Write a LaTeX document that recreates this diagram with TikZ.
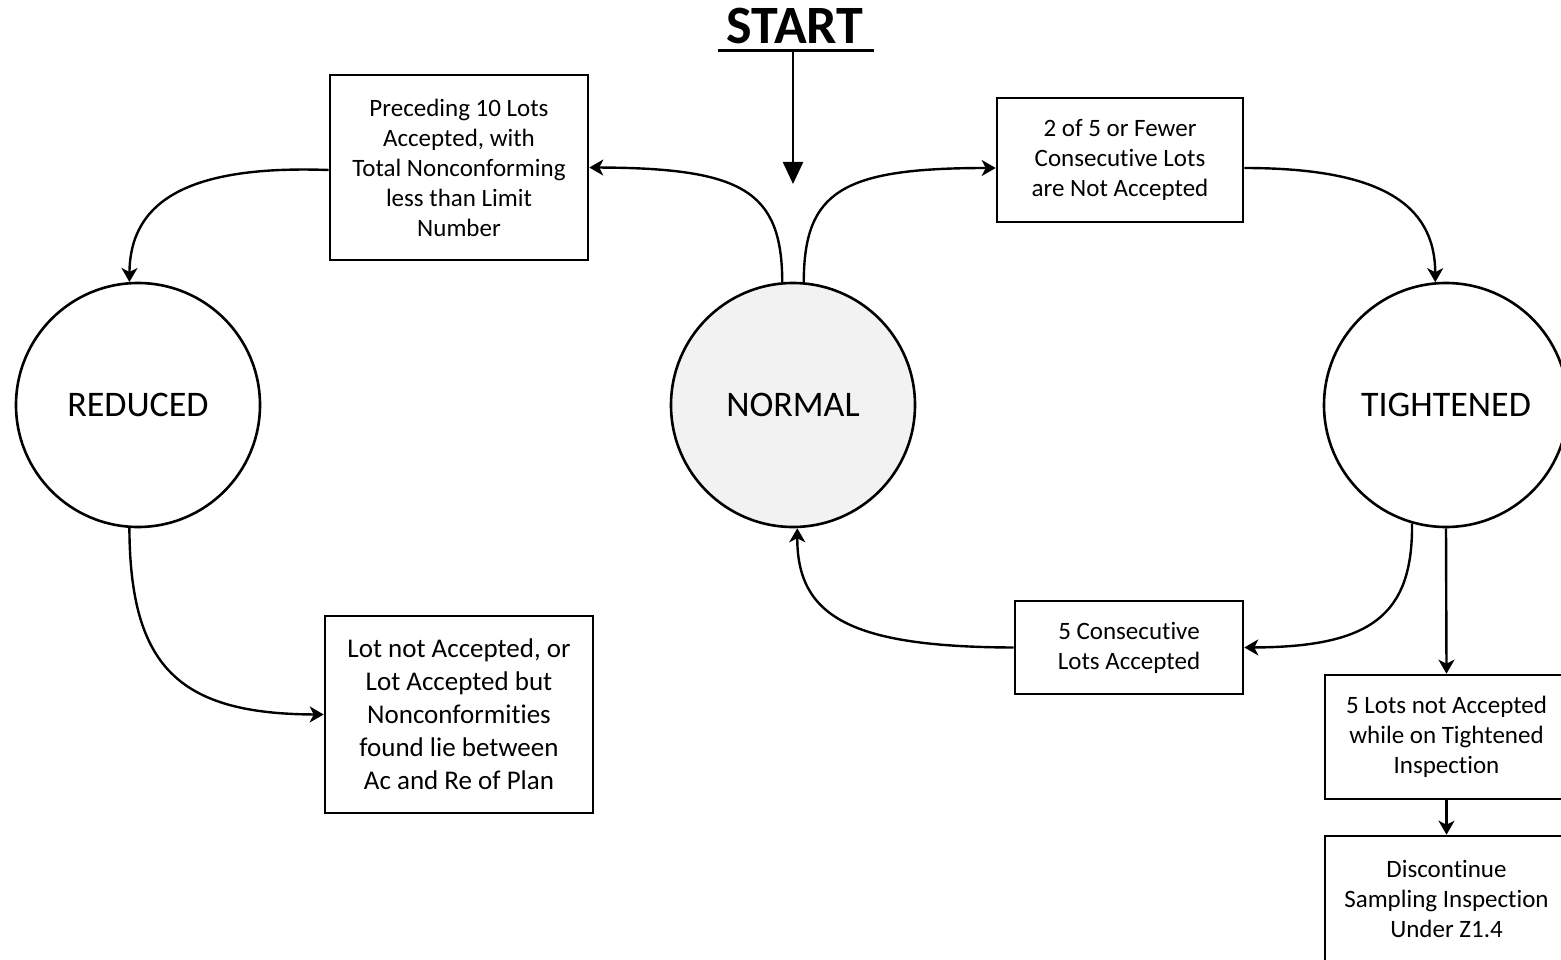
\documentclass[tikz,border=0pt]{standalone}
\usepackage{fontspec}
\setmainfont{Carlito}[Ligatures=NoCommon]
\usetikzlibrary{arrows.meta}
\definecolor{normalfill}{HTML}{F2F2F2}
\tikzset{
  state/.style={circle, draw, line width=2.6pt, minimum size=244pt, inner sep=0pt, font=\fontsize{36}{42}\selectfont},
  box/.style={rectangle, draw, line width=2.6pt, align=center, inner sep=0pt, font=\fontsize{25}{30}\selectfont},
  conn/.style={line width=2.4pt, -{Stealth[length=14pt,width=16pt,inset=4pt]}},
}
\begin{document}
\begin{tikzpicture}[x=1pt,y=-1pt]
\useasboundingbox (0,0) rectangle (1561,960);
% START
\node[font=\fontsize{54}{60}\bfseries, inner sep=0pt, anchor=base] (start) at (795,44) {START};
\draw[line width=3pt] (718,51) -- (874,51);
\coordinate (starttip) at (793,184);
\draw[line width=2.4pt, -{Triangle[length=22pt,width=20pt]}] (793,51) -- (starttip);
% states
\node[state] (reduced) at (138,405) {REDUCED};
\node[state, fill=normalfill] (normal) at (793,405) {NORMAL};
\node[state] (tight) at (1446,405) {TIGHTENED};
% boxes
\node[box, minimum width=258pt, minimum height=185pt] (b1) at (459,167.5) {Preceding 10 Lots\\Accepted, with\\Total Nonconforming\\less than Limit\\Number};
\node[box, minimum width=246pt, minimum height=124pt] (b2) at (1120,160) {2 of 5 or Fewer\\Consecutive Lots\\are Not Accepted};
\node[box, minimum width=228pt, minimum height=93pt] (b3) at (1129,647.5) {5 Consecutive\\Lots Accepted};
\node[box, minimum width=268pt, minimum height=197pt, font=\fontsize{27}{33}\selectfont] (b4) at (459,714.5) {Lot not Accepted, or\\Lot Accepted but\\Nonconformities\\found lie between\\Ac and Re of Plan};
\node[box, minimum width=243pt, minimum height=124pt] (b5) at (1446.5,737) {5 Lots not Accepted\\while on Tightened\\Inspection};
\node[box, minimum width=243pt, minimum height=126pt] (b6) at (1446.5,899) {Discontinue\\Sampling Inspection\\Under Z1.4};
% connectors
\draw[conn] (normal.95) .. controls (782,191) and (743,168) .. (b1.east);
\draw[conn] (normal.85) .. controls (804,191) and (842,168) .. ([yshift=-8pt]b2.west);
\draw[conn] ([yshift=-8pt]b2.east) .. controls (1377,168) and (1435,202) .. (tight.95);
\draw[conn] ([yshift=-2.5pt]b1.west) .. controls (190,165) and (130,200) .. (reduced.94);
\draw[conn] (reduced.266) .. controls (130,667) and (179,714) .. (b4.west);
\draw[conn] (tight.254) .. controls (1413,616) and (1370,647) .. (b3.east);
\draw[conn] (b3.west) .. controls (851,647) and (797,617) .. (normal.272);
\draw[conn] (tight.south) -- (b5.north);
\draw[conn] (b5.south) -- (b6.north);
\end{tikzpicture}
\end{document}
